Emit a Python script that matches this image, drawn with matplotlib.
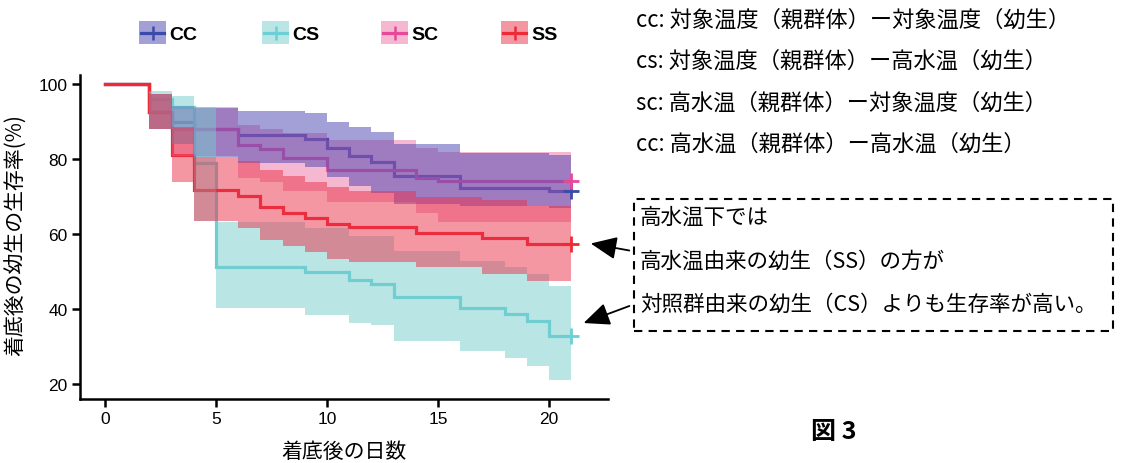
import matplotlib
matplotlib.use("Agg")
import matplotlib.pyplot as plt
from matplotlib.patches import Rectangle, FancyArrowPatch
from matplotlib.lines import Line2D
import numpy as np

plt.rcParams['font.family'] = ['Noto Sans CJK JP', 'DejaVu Sans']

# ---------------- data ----------------
groups = ["CC", "CS", "SC", "SS"]
line_colors = ["#3A4BA8", "#6BCFD5", "#E8489A", "#EE2A35"]
band_colors = ["#4941B1", "#75CDCD", "#EF71A5", "#EB3149"]

days_cc = [0, 2, 3, 4, 6, 9, 10, 11, 12, 13, 16, 20, 21]
surv_cc = [100, 92.5, 90, 88, 86.5, 85.3, 82.9, 80.9, 79.1, 75.4, 72.4, 71.6, 71.6]
up_cc = [100, 97.3, 94.2, 93.6, 92.9, 92.2, 90, 88.5, 87.1, 84.1, 81.6, 81.2, 81.2]
lo_cc = [100, 88, 84, 80.5, 79, 77.9, 75.1, 72.9, 71, 68, 67.6, 67, 67]

days_cs = [0, 2, 3, 4, 5, 9, 11, 12, 13, 16, 18, 19, 20, 21]
surv_cs = [100, 96, 94, 79, 51.3, 49.8, 47.7, 46.8, 43.1, 40.4, 38.7, 36.9, 32.9, 32.9]
up_cs = [100, 98.2, 96.9, 94, 63.2, 61.5, 59.5, 59.5, 55.5, 52.9, 51.1, 49.3, 46.2, 46.2]
lo_cs = [100, 88, 84, 63.5, 40.4, 38.4, 36.4, 35.6, 31.6, 28.9, 26.9, 24.9, 21.2, 21.2]

days_sc = [0, 2, 3, 6, 7, 8, 10, 14, 15, 21]
surv_sc = [100, 92.5, 88, 83.7, 82.7, 80.2, 77.1, 74.9, 74.2, 74.2]
up_sc = [100, 97.3, 94, 89, 88, 87, 85, 83, 81.8, 81.8]
lo_sc = [100, 88, 80.9, 75, 74, 71.5, 68.5, 65.5, 63.3, 63.3]

days_ss = [0, 2, 3, 4, 6, 7, 8, 9, 10, 11, 14, 17, 19, 21]
surv_ss = [100, 92.5, 81, 71.7, 70.2, 67.3, 65.6, 64.2, 62.7, 61.8, 60.4, 59, 57.3, 57.3]
up_ss = [100, 97.3, 88.5, 80.5, 79.5, 77, 75.5, 73.8, 72.5, 71.5, 70, 69, 67.5, 67.5]
lo_ss = [100, 88, 73.9, 63.5, 61.6, 58.5, 56.7, 55.1, 53.3, 52.6, 51.1, 49.3, 47.6, 47.6]

x_ticks = [0, 5, 10, 15, 20]
y_ticks = [20, 40, 60, 80, 100]
x_label = "着底後の日数"
y_label = "着底後の幼生の生存率(%)"

legend_lines = [
    "cc: 対象温度（親群体）ー対象温度（幼生）",
    "cs: 対象温度（親群体）ー高水温（幼生）",
    "sc: 高水温（親群体）ー対象温度（幼生）",
    "cc: 高水温（親群体）ー高水温（幼生）",
]
note_lines = [
    "高水温下では",
    "高水温由来の幼生（SS）の方が",
    "対照群由来の幼生（CS）よりも生存率が高い。",
]
fig_label = "図 3"

series = [
    (days_cc, surv_cc, up_cc, lo_cc),
    (days_cs, surv_cs, up_cs, lo_cs),
    (days_sc, surv_sc, up_sc, lo_sc),
    (days_ss, surv_ss, up_ss, lo_ss),
]
ribbon_order = [2, 0, 1, 3]  # SC, CC, CS, SS

# ---------------- figure ----------------
W, H = 1126, 464
fig = plt.figure(figsize=(W / 100, H / 100), dpi=100)

def fx(px):
    return px / W

def fy(py):
    return 1 - py / H

ax_l, ax_r, ax_b, ax_t = 80, 608, 400, 70
ax = fig.add_axes([fx(ax_l), fy(ax_b), fx(ax_r - ax_l), (ax_b - ax_t) / H])
ax.set_xlim(-1.13, 22.66)
ax.set_ylim(16, 104)

band_alpha = 0.5
# lines first (under ribbons)
for (d, s, u, l), c in zip(series, line_colors):
    ax.step(d, s, where='post', color=c, lw=2.3, zorder=2, solid_joinstyle='miter')
for k, i in enumerate(ribbon_order):
    d, s, u, l = series[i]
    ax.fill_between(d, l, u, step='post', color=band_colors[i], alpha=band_alpha, lw=0, zorder=3 + 0.1 * k)
# censor marks
for (d, s, u, l), c in zip(series, line_colors):
    ax.plot([d[-1]], [s[-1]], marker='+', ms=12, mew=2, color=c, zorder=4)

for sp in ['top', 'right']:
    ax.spines[sp].set_visible(False)
for sp in ['left', 'bottom']:
    ax.spines[sp].set_linewidth(1.8)
ax.spines['left'].set_bounds(16, 102.5)
ax.set_xticks(x_ticks)
ax.set_yticks(y_ticks)
ax.tick_params(axis='both', length=6, width=1.8, labelsize=12.5, pad=3)
for t in ax.get_xticklabels() + ax.get_yticklabels():
    t.set_fontfamily(['Liberation Sans', 'DejaVu Sans'])
ax.set_xlabel(x_label, fontsize=15, labelpad=10)
ax.set_ylabel(y_label, fontsize=15, labelpad=8)

# ---------------- legend (top) ----------------
leg_x = [139, 262, 381, 501]
for gx, g, c, bc in zip(leg_x, groups, line_colors, band_colors):
    fig.add_artist(Rectangle((fx(gx), fy(45)), fx(27), 23 / H, transform=fig.transFigure,
                             facecolor=bc, alpha=band_alpha, edgecolor='none'))
    fig.add_artist(Line2D([fx(gx + 2), fx(gx + 25)], [fy(33.5), fy(33.5)], transform=fig.transFigure,
                          color=c, lw=2.3))
    fig.add_artist(Line2D([fx(gx + 13.5)], [fy(33.5)], transform=fig.transFigure,
                          color=c, marker='+', ms=10, mew=1.8))
    fig.text(fx(gx + 30), fy(35), g, fontsize=14, fontweight='bold', va='center', ha='left',
             family=['Liberation Sans', 'DejaVu Sans'])

# ---------------- right texts ----------------
for i, t in enumerate(legend_lines):
    fig.text(fx(636), fy(20 + 41.5 * i), t, fontsize=16, va='center', ha='left')

fig.add_artist(Rectangle((fx(634), fy(332)), fx(1113 - 634), (332 - 200) / H, transform=fig.transFigure,
                         facecolor='none', edgecolor='black', lw=1.5, linestyle=(0, (4, 3))))
for i, t in enumerate(note_lines):
    fig.text(fx(640), fy(218 + 43.5 * i), t, fontsize=15.5, va='center', ha='left')

for (x0, y0, x1, y1) in [(632, 252, 588, 244), (632, 306, 581, 325)]:
    fig.add_artist(FancyArrowPatch((fx(x0), fy(y0)), (fx(x1), fy(y1)), transform=fig.transFigure,
                                   arrowstyle='-|>,head_length=16,head_width=7', mutation_scale=1,
                                   color='black', lw=1.3))

fig.text(fx(834), fy(432), fig_label, fontsize=18, fontweight='bold', va='center', ha='center')

fig.savefig("out.png", dpi=100)
